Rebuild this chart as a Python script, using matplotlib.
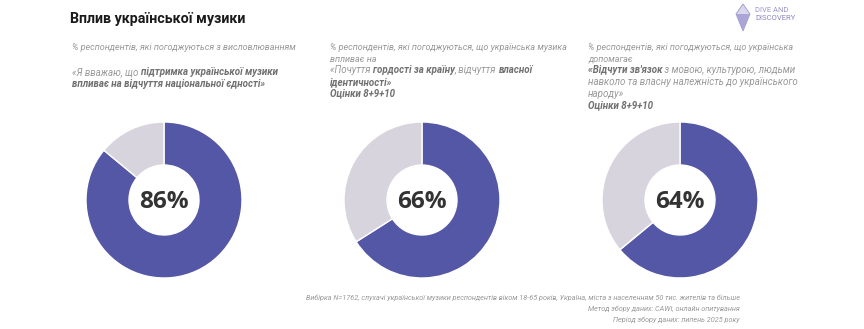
import matplotlib
matplotlib.use("Agg")
import matplotlib.pyplot as plt
from matplotlib.patches import Polygon

# ---- data ----
values = [86, 66, 64]
labels = ["86%", "66%", "64%"]
title = "Вплив української музики"
intro_lines = [
    ["% респондентів, які погоджуються з висловлюванням"],
    ["% респондентів, які погоджуються, що українська музика", "впливає на"],
    ["% респондентів, які погоджуються, що українська", "допомагає"],
]
# runs: (text, bold)
quote_lines = [
    [
        [("«Я вважаю, що ", False), ("підтримка української музики", True)],
        [("впливає на відчуття національної єдності»", True)],
    ],
    [
        [("«Почуття ", False), ("гордості за країну", True), (", відчуття ", False), ("власної", True)],
        [("ідентичності»", True)],
        [("Оцінки 8+9+10", True)],
    ],
    [
        [("«Відчути зв'язок", True), (" з мовою, культурою, людьми", False)],
        [("навколо та власну належність до українського", False)],
        [("народу»", False)],
        [("Оцінки 8+9+10", True)],
    ],
]
footnote = [
    "Вибірка N=1762, слухачі української музики респондентів віком 18-65 років, Україна, міста з населенням 50 тис. жителів та більше",
    "Метод збору даних: CAWI, онлайн опитування",
    "Період збору даних: липень 2025 року",
]

W, H = 864, 329
fig = plt.figure(figsize=(W / 100, H / 100), dpi=100)
fig.patch.set_facecolor("white")

BLUE = "#5457a6"
GREY = "#d7d4de"
TXT = "#999999"
BOLDTXT = "#707070"
DARK = "#333333"
FAM = ["Roboto", "DejaVu Sans"]


def fx(px):
    return px / W


def fy(py):
    return 1 - py / H


fig.text(fx(70), fy(23), title, fontsize=10.3, fontweight="bold", color="#1a1a1a",
         family=FAM, va="baseline")

renderer = fig.canvas.get_renderer()


def draw_runs(x_px, y_px, runs, size=6.3):
    x = x_px
    for txt, bold in runs:
        t = fig.text(fx(x), fy(y_px), txt, fontsize=size, style="italic",
                     fontweight="bold" if bold else "normal",
                     color=BOLDTXT if bold else TXT,
                     family=FAM, va="baseline")
        bb = t.get_window_extent(renderer=renderer)
        x += bb.width


panel_x = [72, 330, 588]
centers = [164, 422, 680]
for i in range(3):
    y = 50
    for line in intro_lines[i]:
        draw_runs(panel_x[i], y, [(line, False)], size=6.5)
        y += 11.7
    if i == 0:
        y = 75
    for runs in quote_lines[i]:
        draw_runs(panel_x[i], y, runs, size=7.0)
        y += 11.6

R = 78
for i, v in enumerate(values):
    cx, cy = centers[i], 200
    ax = fig.add_axes([fx(cx - R), fy(cy + R), 2 * R / W, 2 * R / H])
    ax.pie([v, 100 - v], colors=[BLUE, GREY], startangle=90, counterclock=False,
           radius=1, wedgeprops=dict(width=1 - 35 / 78, edgecolor="white", linewidth=1))
    ax.set_xlim(-1, 1)
    ax.set_ylim(-1, 1)
    ax.set_aspect("equal")
    ax.axis("off")
    ax.text(0, -0.02, labels[i], ha="center", va="center", fontsize=17.5,
            fontweight="bold", color=DARK, family=["Open Sans", "DejaVu Sans"])

# footnote
fy_px = [300, 311, 322]
for line, yy in zip(footnote, fy_px):
    fig.text(fx(740), fy(yy), line, fontsize=5.25, style="italic", color=TXT,
             family=FAM, ha="right", va="baseline")

# logo
lax = fig.add_axes([fx(733), fy(34), 70 / W, 34 / H])
lax.set_xlim(0, 70)
lax.set_ylim(0, 34)
lax.axis("off")
lax.add_patch(Polygon([[3, 20], [10, 30], [17, 20], [10, 3]], closed=True,
                      facecolor="#d9d6ee", edgecolor="#9c97c8", linewidth=0.6))
lax.add_patch(Polygon([[3, 20], [17, 20], [10, 3]], closed=True,
                      facecolor="#aaa5d6", edgecolor="none"))
lax.text(22, 24, "DIVE AND", fontsize=5.5, color="#9c97c8", family=FAM, va="center",
         fontstretch="condensed")
lax.text(22, 16, "DISCOVERY", fontsize=5.5, color="#8a84c0", family=FAM, va="center",
         fontstretch="condensed")

fig.savefig("out.png", dpi=100, facecolor="white")
